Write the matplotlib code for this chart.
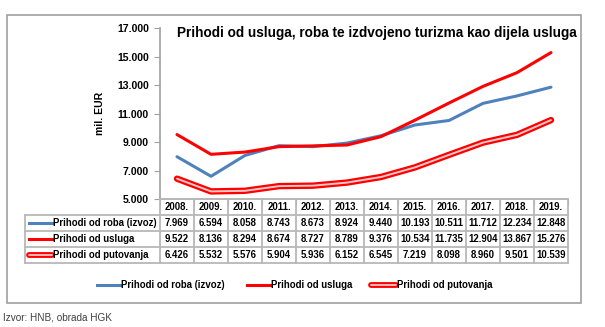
import numpy as np
import matplotlib
matplotlib.use("Agg")
import matplotlib.pyplot as plt
from matplotlib.patches import Rectangle
from matplotlib.lines import Line2D

plt.rcParams['font.family'] = ['Liberation Sans', 'DejaVu Sans']

## chart data
years = ['2008.', '2009.', '2010.', '2011.', '2012.', '2013.', '2014.',
         '2015.', '2016.', '2017.', '2018.', '2019.']
roba = [7969, 6594, 8058, 8743, 8673, 8924, 9440, 10193, 10511, 11712, 12234, 12848]
usluge = [9522, 8136, 8294, 8674, 8727, 8789, 9376, 10534, 11735, 12904, 13867, 15276]
putovanja = [6426, 5532, 5576, 5904, 5936, 6152, 6545, 7219, 8098, 8960, 9501, 10539]
names = ['Prihodi od roba (izvoz)', 'Prihodi od usluga', 'Prihodi od putovanja']
title = 'Prihodi od usluga, roba te izdvojeno turizma kao dijela usluga'
source = 'Izvor: HNB, obrada HGK'

W, H = 605, 327
fig = plt.figure(figsize=(W / 100, H / 100), dpi=100)

def fx(px):
    return px / W

def fy(py):
    return 1 - py / H

## pixel layout
L, R, T, B = 160, 568, 28, 199
ax = fig.add_axes([fx(L), fy(B), fx(R - L), (B - T) / H])

blue = '#4F81BD'
red = '#FF0000'
pink = '#FFC8C8'
x = np.arange(len(years))

ax.plot(x, roba, color=blue, lw=2.2, solid_capstyle='round', zorder=3)
ax.plot(x, usluge, color=red, lw=2.2, solid_capstyle='round', zorder=4)
ax.plot(x, putovanja, color=red, lw=4.6, solid_capstyle='round', zorder=2)
ax.plot(x, putovanja, color=pink, lw=1.4, solid_capstyle='round', zorder=2)

ax.set_xlim(-0.5, len(years) - 0.5)
ax.set_ylim(5000, 17000)
ax.set_yticks(np.arange(5000, 17001, 2000))
ax.set_yticklabels([f'{v:,}'.replace(',', '.') for v in range(5000, 17001, 2000)],
                   fontsize=7.5, fontweight='bold')
ax.set_xticks(np.arange(-0.5, len(years), 1.0))
ax.set_xticklabels([])
ax.tick_params(axis='y', length=4, color='#a0a0a0', pad=4)
ax.tick_params(axis='x', length=4, color='#a0a0a0', direction='out')
for s in ['top', 'right']:
    ax.spines[s].set_visible(False)
for s in ['left', 'bottom']:
    ax.spines[s].set_color('#a0a0a0')
    ax.spines[s].set_linewidth(1.2)
ax.set_ylabel('mil. EUR', fontsize=7.5, fontweight='bold', labelpad=9)

fig.text(fx(577), fy(33), title, ha='right', va='center',
         fontsize=9.8, fontweight='bold')

## outer frame
fig.add_artist(Rectangle((fx(7), fy(303)), fx(574), (303 - 15) / H,
                         fill=False, edgecolor='#a0a0a0', lw=1.2,
                         transform=fig.transFigure))

## data table
cw = (R - L) / len(years)
row_y = [199, 215, 231, 247, 263]
tab_left = 25
gc = '#b8b8b8'

def hline(x0, x1, y):
    fig.add_artist(Line2D([fx(x0), fx(x1)], [fy(y), fy(y)], color=gc, lw=1.3,
                          transform=fig.transFigure))

def vline(xp, y0, y1):
    fig.add_artist(Line2D([fx(xp), fx(xp)], [fy(y0), fy(y1)], color=gc, lw=1.3,
                          transform=fig.transFigure))

hline(L, R, row_y[0])
for y in row_y[1:]:
    hline(tab_left, R, y)
vline(tab_left, row_y[1], row_y[-1])
for i in range(len(years) + 1):
    vline(L + i * cw, row_y[0], row_y[-1])

for i, yr in enumerate(years):
    fig.text(fx(L + (i + 0.5) * cw), fy((row_y[0] + row_y[1]) / 2), yr,
             ha='center', va='center', fontsize=6.9, fontweight='bold')

series = [roba, usluge, putovanja]
for r, (nm, vals) in enumerate(zip(names, series)):
    yc = (row_y[r + 1] + row_y[r + 2]) / 2
    for i, v in enumerate(vals):
        fig.text(fx(L + (i + 0.5) * cw), fy(yc), f'{v:,}'.replace(',', '.'),
                 ha='center', va='center', fontsize=6.9, fontweight='bold')
    fig.text(fx(53), fy(yc), nm, ha='left', va='center', fontsize=6.9,
             fontweight='bold')

def key(x0, x1, y, r):
    if r == 0:
        fig.add_artist(Line2D([fx(x0), fx(x1)], [fy(y), fy(y)], color=blue, lw=2.2,
                              transform=fig.transFigure))
    elif r == 1:
        fig.add_artist(Line2D([fx(x0), fx(x1)], [fy(y), fy(y)], color=red, lw=2.2,
                              transform=fig.transFigure))
    else:
        fig.add_artist(Line2D([fx(x0), fx(x1)], [fy(y), fy(y)], color=red, lw=4.2,
                              solid_capstyle='round', transform=fig.transFigure))
        fig.add_artist(Line2D([fx(x0), fx(x1)], [fy(y), fy(y)], color=pink, lw=1.3,
                              solid_capstyle='round', transform=fig.transFigure))

for r in range(3):
    key(29, 52, (row_y[r + 1] + row_y[r + 2]) / 2, r)

## legend under the table
leg = [(97, 120), (247, 270), (371, 396)]
for r, (a, b) in enumerate(leg):
    key(a, b, 285, r)
    fig.text(fx(b + 1), fy(285), names[r], ha='left', va='center', fontsize=6.9,
             fontweight='bold')

fig.text(fx(3), fy(318), source, ha='left', va='center', fontsize=7.2,
         color='#404040')

fig.savefig('out.png', dpi=100)
